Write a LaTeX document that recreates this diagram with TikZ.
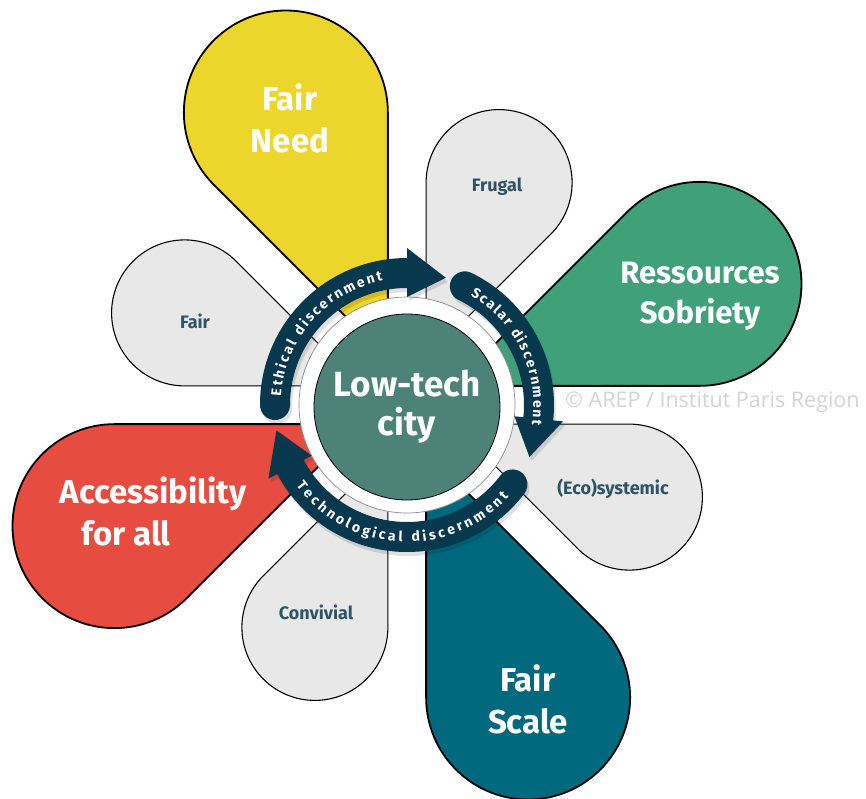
\documentclass[tikz,border=0pt]{standalone}
\usepackage{fontspec}
\setmainfont{Fira Sans}
\newfontfamily\markfont{Open Sans}
\usetikzlibrary{decorations.text}

\definecolor{needyellow}{RGB}{237,214,43}
\definecolor{sobergreen}{RGB}{64,160,122}
\definecolor{scaleteal}{RGB}{0,105,126}
\definecolor{accessred}{RGB}{231,76,64}
\definecolor{petalgray}{RGB}{232,232,232}
\definecolor{citygreen}{RGB}{76,130,120}
\definecolor{bandblue}{RGB}{7,56,78}
\definecolor{labelblue}{RGB}{45,83,102}
\definecolor{markgray}{RGB}{212,212,212}

\begin{document}
\begin{tikzpicture}[x=1pt, y=1pt,
    petal/.style={draw=black, line width=1.1pt, fill=petalgray},
    bigpetal/.style={draw=black, line width=1.8pt},
    biglabel/.style={text=white, font=\bfseries\fontsize{33}{42}\selectfont, align=center},
    smalllabel/.style={text=labelblue, font=\bfseries\fontsize{18}{22}\selectfont},
    band/.style={fill=bandblue},
    bandshadow/.style={fill=black, opacity=.12, shift={(2,-4)}},
    bandtext/.style={decorate, decoration={text along path, text align=fit to path,
        text={|\bfseries\fontsize{14}{16}\selectfont\color{white}|#1}}}]

\useasboundingbox (-407,-393) rectangle (459,405);

% small grey petals
\foreach \ang in {157.5, 67.5, -22.5, -112.5}
  \draw[petal] (\ang:50) -- ++({\ang-22.5}:176.2)
    arc[start angle={\ang-112.5}, end angle={\ang+112.5}, radius=73] -- cycle;

% big coloured petals
\foreach \ang/\col in {112.5/needyellow, 22.5/sobergreen, -67.5/scaleteal, -157.5/accessred}
  \draw[bigpetal, fill=\col] (\ang:50) -- ++({\ang-22.5}:246.3)
    arc[start angle={\ang-112.5}, end angle={\ang+112.5}, radius=102] -- cycle;

\node[biglabel] (need) at (-117,287) {Fair\\Need};
\node[biglabel, font=\bfseries\fontsize{31}{40}\selectfont] (sobriety) at (293,109) {Ressources\\Sobriety};
\node[biglabel] (scale) at (121,-294) {Fair\\Scale};
\node[biglabel, align=left] (access) at (-254,-106) {Accessibility\\\hspace{22pt}for all};

\node[smalllabel] (frugal) at (90,218) {Frugal};
\node[smalllabel] (fair) at (-212,84) {Fair};
\node[smalllabel] (eco) at (206,-84) {(Eco)systemic};
\node[smalllabel] (convivial) at (-91,-207) {Convivial};

\node[anchor=west, inner sep=0, text=markgray, font=\markfont\fontsize{21.5}{24}\selectfont]
  (credit) at (158,3) {© AREP / Institut Paris Region};

\draw[black!45, line width=0.7pt, fill=white] (0,0) circle (108);

% the three discernment arrows
\foreach \a/\b in {180/90, 64/-6, -37/-152}
  \foreach \sty in {bandshadow, band}
    \fill[\sty] (\a:147) arc[start angle=\a, end angle=\b, radius=147]
      -- (\b:157) -- ({\b-17}:133) -- (\b:108) -- (\b:117)
      arc[start angle=\b, end angle=\a, radius=117]
      arc[start angle={\a-180}, end angle={\a-360}, radius=15] -- cycle;

\path[bandtext=Ethical discernment] (176:126.5) arc[start angle=176, end angle=101, radius=126.5];
\path[bandtext=Scalar discernment] (60:126.5) arc[start angle=60, end angle=-9, radius=126.5];
\path[bandtext=Technological discernment] (-144:137) arc[start angle=-144, end angle=-42, radius=137];

\node[circle, fill=citygreen, draw=black, line width=0.8pt, minimum size=186pt,
  text=white, font=\bfseries\fontsize{35}{39}\selectfont, align=center] (city) at (0,-2) {Low-tech\\city};

\end{tikzpicture}
\end{document}
